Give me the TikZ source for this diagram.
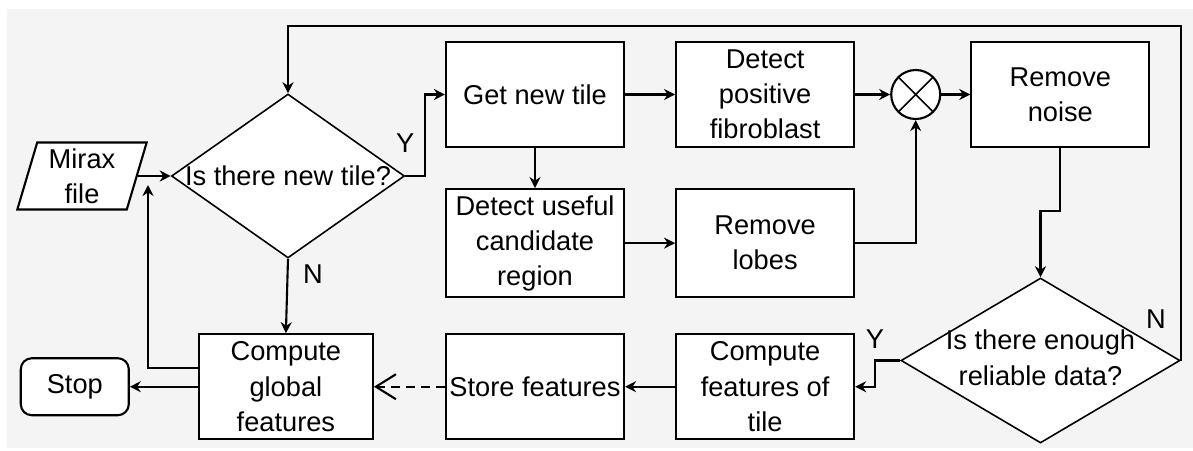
\documentclass[tikz,border=0pt]{standalone}
\usepackage{fontspec}
\setmainfont{Liberation Sans}
\usetikzlibrary{arrows.meta, positioning, shapes.geometric}
\definecolor{panelgray}{RGB}{244,244,244}

\begin{document}
\begin{tikzpicture}[
      node distance=1cm,
      font=\fontsize{15.5}{20}\selectfont,
      block/.style={rectangle, draw, line width=1.2pt, fill=white, minimum width=3.56cm, minimum height=2.1cm, inner sep=0pt, align=center},
      decision/.style={diamond, draw, line width=0.9pt, fill=white, inner sep=0pt, align=center},
      io/.style={trapezium, trapezium left angle=75, trapezium right angle=105, trapezium stretches=true, draw, line width=1.2pt, fill=white, minimum width=2.6cm, minimum height=1.34cm, inner sep=0pt, align=center},
      terminal/.style={rectangle, rounded corners=0.22cm, draw, line width=1.2pt, fill=white, minimum width=2.16cm, minimum height=1.14cm, inner sep=0pt},
      mixer/.style={circle, draw, line width=1.2pt, fill=white, minimum size=0.98cm, inner sep=0pt,
        path picture={\draw[line width=0.9pt] (path picture bounding box.north west) -- (path picture bounding box.south east)
          (path picture bounding box.north east) -- (path picture bounding box.south west);}},
      arr/.style={-{Stealth[length=2.2mm, width=2.2mm]}, line width=1.2pt},
      dasharr/.style={-{Straight Barb[length=0.4cm, width=0.5cm]}, line width=1.2pt, dash pattern=on 0.18cm off 0.12cm},
      lbl/.style={inner sep=0pt}
    ]
      \useasboundingbox (0,0) rectangle (23.86,-9);
      \fill[white] (0,0) rectangle (23.86,-9);
      \fill[panelgray] (0.14,-0.18) rectangle (23.86,-8.96);

      \node[decision, minimum width=4.66cm, minimum height=3.28cm] (newtile) at (5.76,-3.52) {\makebox[0pt]{Is there new tile?}};
      \node[io] (mirax) at (1.64,-3.52) {Mirax\\file};
      \node[block] (gettile) at (10.7,-1.89) {Get new tile};
      \node[block, right=of gettile] (fibro) {Detect\\positive\\fibroblast};
      \node[mixer, right=0.7cm of fibro] (mult) {};
      \node[block, right=0.58cm of mult] (noise) {Remove\\noise};
      \node[block, below=0.8cm of gettile, minimum height=2.16cm] (candidate) {Detect useful\\candidate\\region};
      \node[block, right=of candidate, minimum height=2.16cm] (lobes) {Remove\\lobes};
      \node[block, below=0.7cm of lobes] (tilefeat) {Compute\\features of\\tile};
      \node[block, left=of tilefeat] (store) {Store features};
      \node[block, left=1.42cm of store, minimum width=3.48cm] (global) {Compute\\global\\features};
      \node[terminal, left=1.36cm of global] (stop) {Stop};
      \node[decision, minimum width=5.58cm, minimum height=3.3cm] (enough) at (20.81,-7.21)
        {\makebox[0pt]{\begin{tabular}{@{}c@{}}Is there enough\\reliable data?\end{tabular}}};
      \coordinate (rejoin) at (2.96,-3.7);

      \draw[arr] (mirax.east |- newtile.west) -- (newtile.west);
      \draw[arr] (newtile.east) node[lbl, above=0.45cm] {Y} -- ++(0.4,0) |- (gettile.west);
      \draw[arr] (gettile) -- (fibro);
      \draw[arr] (fibro) -- (mult);
      \draw[arr] (mult) -- (noise);
      \draw[arr] (gettile) -- (candidate);
      \draw[arr] (candidate) -- (lobes);
      \draw[arr] (lobes.east) -| (mult.south);
      \draw[arr] (noise.south) -- ++(0,-1.26) -| (enough.north);
      \draw[arr] (enough.east) node[lbl, above left=0.62cm and 0.28cm] {N} -- ++(0,6.69) -| (newtile.north);
      \draw[arr] (enough.west) node[lbl, above left=0.22cm and 0.3cm] {Y} -- ++(-0.5,0) |- (tilefeat.east);
      \draw[arr] (tilefeat) -- (store);
      \draw[dasharr] (store) -- (global);
      \draw[arr] (newtile.south) node[lbl, below right=0.1cm and 0.28cm] {N} -- (global.north);
      \draw[arr] ([yshift=0.38cm]global.west) -| (rejoin);
      \draw[arr] (global.west |- stop.east) -- (stop.east);
    \end{tikzpicture}
\end{document}
